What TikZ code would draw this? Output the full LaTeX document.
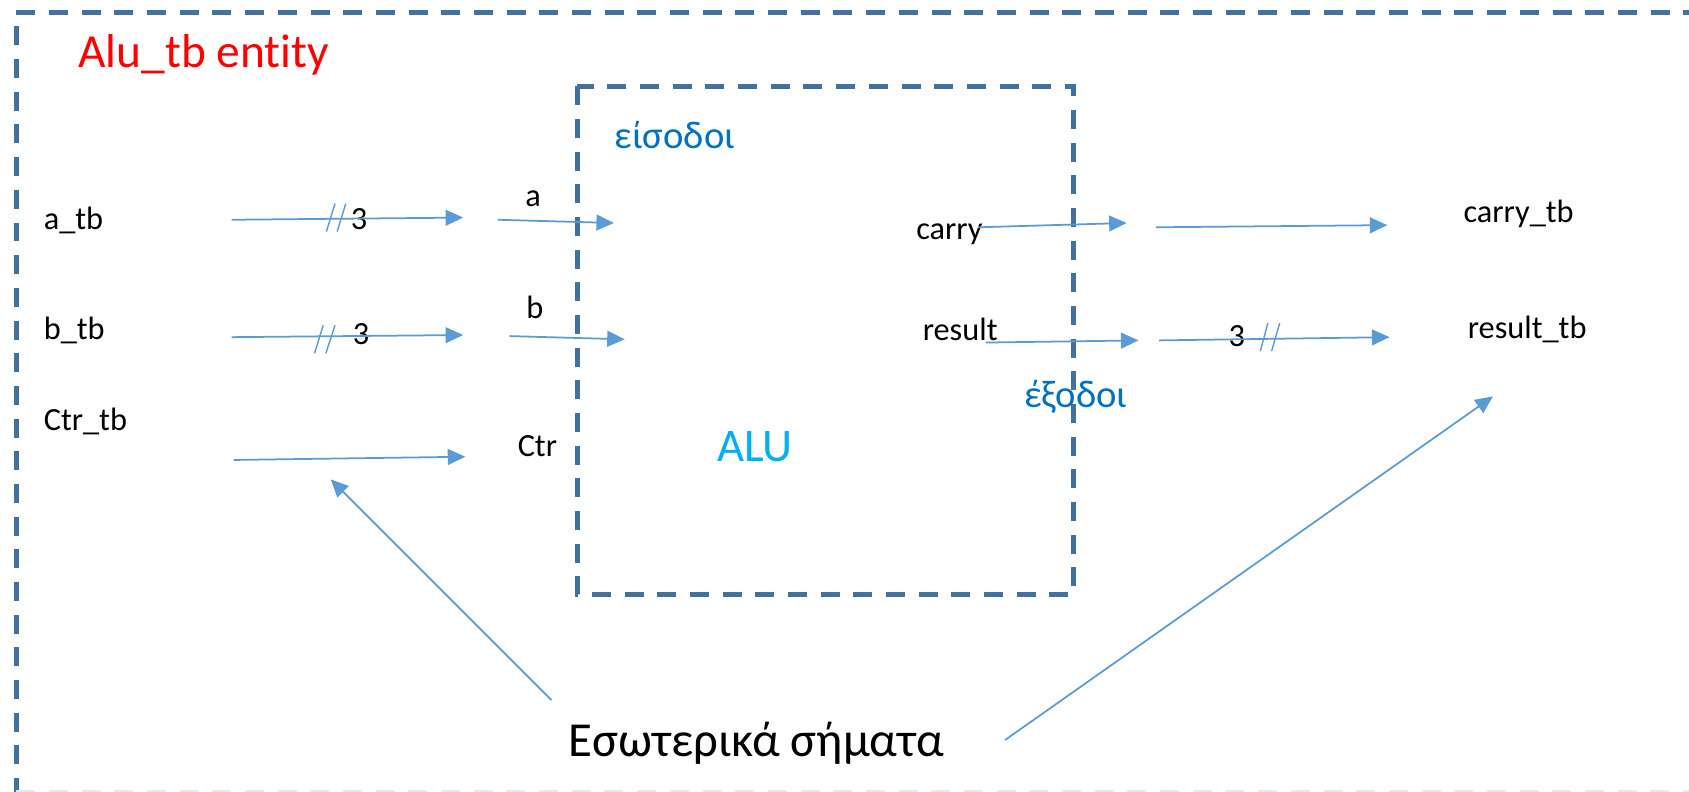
\documentclass[tikz,border=0pt]{standalone}
\usepackage{fontspec}
\setmainfont{Carlito}[Ligatures=NoCommon]
\usetikzlibrary{arrows.meta}
\definecolor{boxblue}{HTML}{41719C}
\definecolor{arrblue}{HTML}{5B9BD5}
\definecolor{txtblue}{HTML}{0070C0}
\definecolor{alucyan}{HTML}{00B0F0}
\tikzset{
  frame/.style={draw=boxblue, line width=1.4pt, dash pattern=on 5.4pt off 3.9pt},
  sig/.style={draw=arrblue, line width=0.5pt, -{Triangle[length=5pt,width=4.5pt]}},
  tick/.style={draw=arrblue, line width=0.4pt},
  lbl/.style={font=\fontsize{9.2}{11}\selectfont, inner sep=0pt, anchor=base west},
  grk/.style={font=\fontsize{11}{13}\selectfont, text=txtblue, inner sep=0pt, anchor=base west},
}
\begin{document}
\begin{tikzpicture}[x=0.10772mm, y=-0.10772mm]
\useasboundingbox (0,0) rectangle (1568,735);
\clip (0,0) rectangle (1568,735);
% frames
\draw[frame] (15,740) -- (15,12) -- (1600,12);
\draw[draw=boxblue!15, line width=0.6pt, dash pattern=on 5.4pt off 3.9pt] (15,734.3) -- (1600,734.3);
\draw[frame] (536,80) rectangle (997,552);
% texts
\node[inner sep=0pt, anchor=base west, text=red, font=\fontsize{13.5}{16}\selectfont] (title) at (72,63) {Alu\_tb entity};
\node[lbl] (atb) at (40,213) {a\_tb};
\node[lbl] (btb) at (40,315) {b\_tb};
\node[lbl] (ctb) at (40,400) {Ctr\_tb};
\node[lbl] (a) at (487,192) {a};
\node[lbl] (b) at (488,296) {b};
\node[lbl] (ctr) at (480,424) {Ctr};
\node[lbl] (carry) at (850,222) {carry};
\node[lbl] (result) at (856,316) {result};
\node[lbl] (carrytb) at (1358,207) {carry\_tb};
\node[lbl] (resulttb) at (1362,314) {result\_tb};
\node[grk] (eis) at (570,138) {είσοδοι};
\node[grk] (exo) at (950,378) {έξοδοι};
\node[inner sep=0pt, anchor=base west, text=alucyan, font=\fontsize{13.3}{15}\selectfont] (alu) at (665,428) {ALU};
\node[inner sep=0pt, anchor=base west, font=\fontsize{13.9}{17}\selectfont] (int) at (527,702) {Εσωτερικά σήματα};
\node[lbl] (n1) at (325,213) {3};
\node[lbl] (n2) at (327,320) {3};
\node[lbl] (n3) at (1140,322) {3};
% arrow endpoints
\coordinate (a1s) at (215,204); \coordinate (a1e) at (430,202);
\coordinate (a2s) at (462,204); \coordinate (a2e) at (570,207);
\coordinate (b1s) at (215,313); \coordinate (b1e) at (430,311);
\coordinate (b2s) at (473,312); \coordinate (b2e) at (580,315);
\coordinate (c1s) at (217,427); \coordinate (c1e) at (432,424);
\coordinate (k1s) at (908,211); \coordinate (k1e) at (1046,207);
\coordinate (k2s) at (1073,211); \coordinate (k2e) at (1288,209);
\coordinate (r1s) at (915,318); \coordinate (r1e) at (1057,316);
\coordinate (r2s) at (1076,316); \coordinate (r2e) at (1290,313);
\coordinate (i1s) at (512,650); \coordinate (i1e) at (307,445);
\coordinate (i2s) at (933,687); \coordinate (i2e) at (1386,368);
\draw[sig] (a1s) -- (a1e);
\draw[sig] (a2s) -- (a2e);
\draw[sig] (b1s) -- (b1e);
\draw[sig] (b2s) -- (b2e);
\draw[sig] (c1s) -- (c1e);
\draw[sig] (k1s) -- (k1e);
\draw[sig] (k2s) -- (k2e);
\draw[sig] (r1s) -- (r1e);
\draw[sig] (r2s) -- (r2e);
\draw[sig] (i1s) -- (i1e);
\draw[sig] (i2s) -- (i2e);
% bus ticks
\draw[tick] (303,215) -- (311,189);
\draw[tick] (313,215) -- (321,189);
\draw[tick] (292,328) -- (300,302);
\draw[tick] (302.5,328) -- (311,302);
\draw[tick] (1170,326) -- (1177,300);
\draw[tick] (1180.5,326) -- (1188,300);
\end{tikzpicture}
\end{document}
